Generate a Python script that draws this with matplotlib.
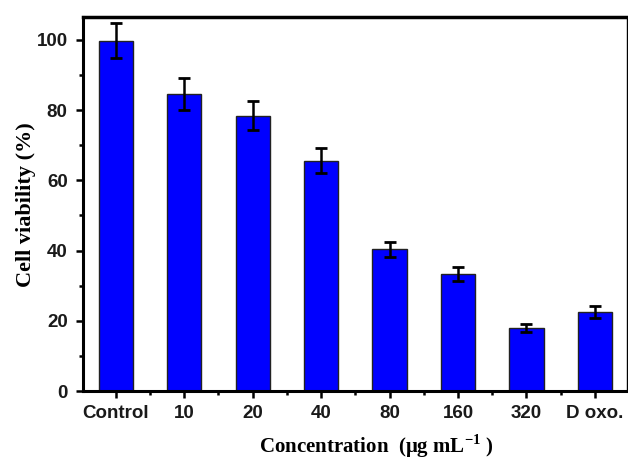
import numpy as np
import matplotlib.pyplot as plt
from matplotlib.ticker import MultipleLocator

# Data
categories = ['Control', '10', '20', '40', '80', '160', '320', 'D oxo.']
viability = [99.8, 84.5, 78.4, 65.6, 40.3, 33.2, 17.9, 22.6]
errors = [5.0, 4.5, 4.2, 3.5, 2.0, 2.0, 1.2, 1.7]


def main():
    plt.rcParams['mathtext.fontset'] = 'custom'
    plt.rcParams['mathtext.bf'] = 'Liberation Serif:bold'
    plt.rcParams['mathtext.rm'] = 'Liberation Serif:bold'

    fig = plt.figure(figsize=(6.28, 4.59), dpi=100)
    ax = fig.add_axes([83/628, 68/459, (627-83)/628, (391-17)/459])

    x = np.arange(len(categories))
    ax.bar(x, viability, width=0.5, color='#0000ff', edgecolor='#222222',
           linewidth=1.0, zorder=2)
    ax.errorbar(x, viability, yerr=errors, fmt='none', ecolor='black',
                elinewidth=1.8, capsize=4, capthick=2, zorder=3)

    ax.set_xlim(-0.48, 7.47)
    ax.set_ylim(0, 106.5)

    # ticks
    ax.set_xticks(x)
    ax.set_xticklabels(categories)
    ax.xaxis.set_minor_locator(MultipleLocator(0.5))
    ax.yaxis.set_major_locator(MultipleLocator(20))
    ax.yaxis.set_minor_locator(MultipleLocator(10))
    ax.tick_params(which='both', direction='out', width=1.8, colors='black',
                   top=False, right=False)
    ax.tick_params(which='major', length=5)
    ax.tick_params(which='minor', length=3)
    for lab in ax.get_xticklabels() + ax.get_yticklabels():
        lab.set_fontfamily('Liberation Sans')
        lab.set_fontweight('bold')
        lab.set_fontsize(13.5)
        lab.set_color('#1a1a1a')
    ax.tick_params(axis='x', pad=5)
    ax.tick_params(axis='y', pad=6)

    # spines
    ax.spines['left'].set_linewidth(2.2)
    ax.spines['bottom'].set_linewidth(2.2)
    ax.spines['top'].set_linewidth(2.5)
    ax.spines['right'].set_linewidth(1.0)

    # axis titles
    fig.text(26/628, 1 - 205/459, 'Cell viability (%)', rotation=90,
             ha='center', va='center', fontfamily='Liberation Serif',
             fontweight='bold', fontsize=16)
    fig.text(376/628, 1 - 446/459,
             'Concentration  (\u03bcg mL$^{\\mathbf{-1}}$ )',
             ha='center', va='center', fontfamily='Liberation Serif',
             fontweight='bold', fontsize=15)

    fig.savefig('out.png', dpi=100)


if __name__ == '__main__':
    main()
